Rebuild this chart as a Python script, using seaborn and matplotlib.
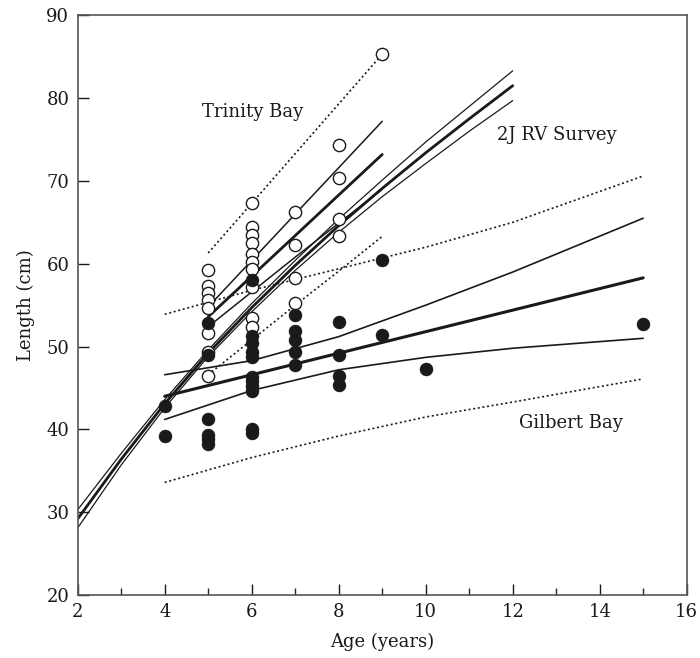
import numpy as np
import pandas as pd
import seaborn as sns
import matplotlib
matplotlib.use("Agg")
import matplotlib.pyplot as plt
from matplotlib.ticker import MultipleLocator

# ---- data ----
# Trinity Bay (open circles)
trinity_age = [5, 5, 5, 5, 5, 5, 5, 5,
               6, 6, 6, 6, 6, 6, 6, 6, 6, 6,
               7, 7, 7, 7,
               8, 8, 8, 8,
               9]
trinity_len = [59.3, 57.3, 56.5, 55.6, 54.6, 51.6, 49.4, 46.5,
               67.3, 64.4, 63.5, 62.5, 61.2, 60.2, 59.4, 57.2, 53.4, 52.4,
               66.3, 62.3, 58.3, 55.3,
               74.3, 70.4, 65.4, 63.3,
               85.3]

# Gilbert Bay (filled circles)
gilbert_age = [4, 4,
               5, 5, 5, 5, 5, 5,
               6, 6, 6, 6, 6, 6, 6, 6, 6, 6, 6,
               7, 7, 7, 7, 7,
               8, 8, 8, 8,
               9, 9,
               10,
               15]
gilbert_len = [42.8, 39.2,
               52.8, 49.0, 41.2, 39.3, 38.8, 38.2,
               58.0, 51.3, 50.4, 49.3, 48.7, 46.3, 45.8, 45.2, 44.6, 40.1, 39.6,
               53.8, 51.9, 50.8, 49.4, 47.8,
               53.0, 49.0, 46.4, 45.4,
               60.4, 51.4,
               47.3,
               52.7]

# 2J RV Survey growth curve with confidence band
rv_age = [2, 3, 4, 5, 6, 7, 8, 9, 10, 11, 12]
rv_mean = [29.2, 36.4, 43.1, 49.2, 54.7, 59.8, 64.6, 69.1, 73.4, 77.5, 81.5]
rv_upper = [30.3, 37.1, 43.6, 49.6, 55.2, 60.4, 65.4, 70.1, 74.7, 79.0, 83.3]
rv_lower = [28.1, 35.7, 42.6, 48.8, 54.2, 59.2, 63.8, 68.1, 72.1, 76.0, 79.7]

# Trinity Bay regression with confidence and prediction bands
tb_age = [5, 6, 7, 8, 9]
tb_mean = [53.6, 58.5, 63.4, 68.3, 73.2]
tb_upper = [54.8, 60.4, 66.0, 71.6, 77.2]
tb_lower = [52.4, 56.6, 60.8, 64.9, 69.0]
tb_pi_upper = [61.3, 67.3, 73.3, 79.3, 85.3]
tb_pi_lower = [46.6, 50.8, 55.0, 59.1, 63.3]

# Gilbert Bay regression with confidence and prediction bands
gb_age = [4, 6, 8, 10, 12, 15]
gb_mean = [44.0, 46.6, 49.2, 51.8, 54.4, 58.3]
gb_upper = [46.6, 48.3, 51.2, 55.0, 59.0, 65.5]
gb_lower = [41.2, 44.7, 47.2, 48.7, 49.8, 51.0]
gb_pi_upper = [53.9, 56.8, 59.4, 62.0, 65.0, 70.6]
gb_pi_lower = [33.6, 36.6, 39.2, 41.5, 43.3, 46.1]

# ---- plotting ----
sns.set_theme(style="ticks")
plt.rcParams['font.family'] = ['DejaVu Serif']

fig = plt.figure(figsize=(7.0, 6.58), dpi=100)
ax = fig.add_axes([0.111, 0.0957, 0.870, 0.881])

ink = "#1a1a1a"
dot = (0, (1.2, 1.6))

def line(x, y, lw, ls="-"):
    sns.lineplot(x=x, y=y, ax=ax, color=ink, lw=lw, linestyle=ls,
                 sort=False, estimator=None, legend=False)

# 2J RV Survey
line(rv_age, rv_upper, 0.9)
line(rv_age, rv_lower, 0.9)
line(rv_age, rv_mean, 2.0)

# Trinity Bay
line(tb_age, tb_upper, 1.1)
line(tb_age, tb_lower, 1.1)
line(tb_age, tb_mean, 2.0)
line(tb_age, tb_pi_upper, 1.2, dot)
line(tb_age, tb_pi_lower, 1.2, dot)

# Gilbert Bay
line(gb_age, gb_upper, 1.2)
line(gb_age, gb_lower, 1.2)
line(gb_age, gb_mean, 2.2)
line(gb_age, gb_pi_upper, 1.2, dot)
line(gb_age, gb_pi_lower, 1.2, dot)

# points
sns.scatterplot(x=trinity_age, y=trinity_len, ax=ax, s=78, marker="o",
                facecolor="white", edgecolor=ink, linewidth=1.0, zorder=5)
sns.scatterplot(x=gilbert_age, y=gilbert_len, ax=ax, s=88, marker="o",
                color=ink, edgecolor=ink, linewidth=0.3, zorder=6)

# text labels
fs = 13
ax.text(4.85, 78.3, "Trinity Bay", fontsize=fs, ha="left", va="center", color=ink)
ax.text(11.65, 75.5, "2J RV Survey", fontsize=fs, ha="left", va="center", color=ink)
ax.text(12.15, 40.8, "Gilbert Bay", fontsize=fs, ha="left", va="center", color=ink)

ax.set_xlim(2, 16)
ax.set_ylim(20, 90)
ax.xaxis.set_major_locator(MultipleLocator(2))
ax.xaxis.set_minor_locator(MultipleLocator(1))
ax.yaxis.set_major_locator(MultipleLocator(10))
ax.tick_params(axis="both", which="major", direction="in", length=8,
               width=1.0, labelsize=fs, colors=ink, pad=6)
ax.tick_params(axis="both", which="minor", direction="in", length=5, width=1.0)
ax.tick_params(top=False, right=False, which="both")
for s in ax.spines.values():
    s.set_color("#555555")
    s.set_linewidth(1.2)

ax.set_xlabel("Age (years)", fontsize=fs, color=ink, labelpad=8)
ax.set_ylabel("Length (cm)", fontsize=fs, color=ink, labelpad=8)

fig.savefig("out.png", dpi=100)
